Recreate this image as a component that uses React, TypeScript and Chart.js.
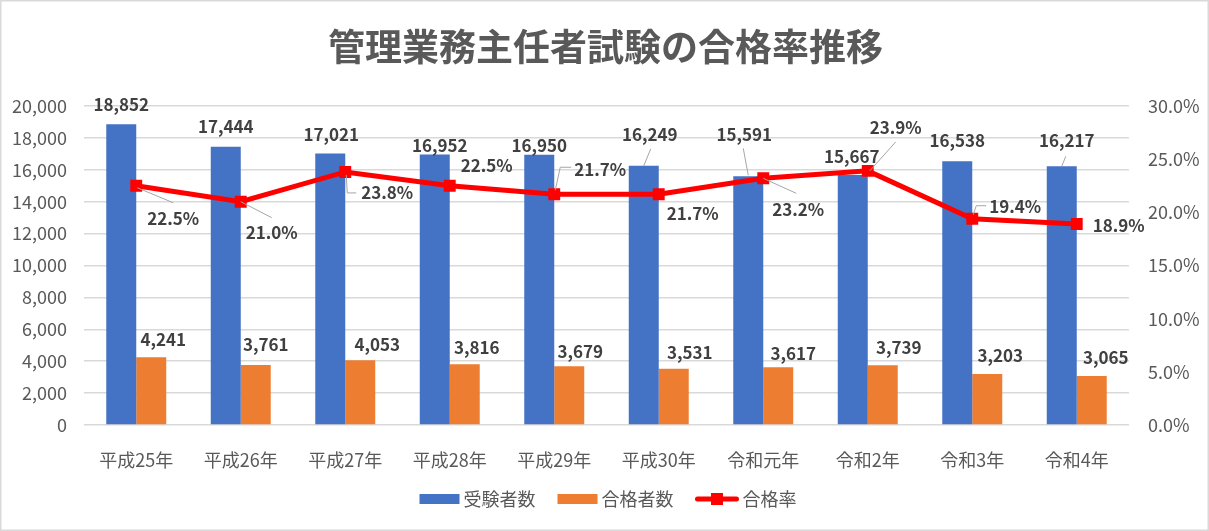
import React, { useEffect, useRef } from 'react';
import { Chart, registerables } from 'chart.js';

Chart.register(...registerables);

// ---------- data ----------
const TITLE = '管理業務主任者試験の合格率推移';
const categories = ['平成25年', '平成26年', '平成27年', '平成28年', '平成29年', '平成30年', '令和元年', '令和2年', '令和3年', '令和4年'];
const seriesNames = ['受験者数', '合格者数', '合格率'];
const examinees = [18852, 17444, 17021, 16952, 16950, 16249, 15591, 15667, 16538, 16217];
const passers = [4241, 3761, 4053, 3816, 3679, 3531, 3617, 3739, 3203, 3065];
const passRate = [22.5, 21.0, 23.8, 22.5, 21.7, 21.7, 23.2, 23.9, 19.4, 18.9];
const leftAxis = { min: 0, max: 20000, step: 2000 };
const rightAxis = { min: 0, max: 30, step: 5 };

// ---------- label placement (style only: offsets from each mark) ----------
type Pt = [number, number];
const examineeLabelOffsets: Pt[] = [[0, -20], [0, -20], [1, -19], [5, -9], [0, -9], [6, -31], [-4, -42], [-1, -19], [0, -21], [5, -26]];
const examineeLeaders: (Pt[] | null)[] = [null, null, null, null, null, [[7, -17], [0, 0]], [[-5, -28], [0, -1]], null, null, [[4, -10], [0, 0]]];
const passerLabelOffsets: Pt[] = [[12, -18], [10, -20], [17, -16], [12, -17], [11, -15], [16, -16], [15, -14], [16, -18], [13, -18], [14, -19]];
const rateLabelOffsets: Pt[] = [[37, 33], [31, 31], [42, 21], [37, -20], [46, -25], [34, 19], [35, 31], [28, -43], [43, -12], [42, 2]];
const rateLeaders: (Pt[] | null)[] = [
  [[1, 2], [37, 17]],
  [[0, 0], [31, 16]],
  [[1, 3], [2, 21], [11, 21]],
  null,
  [[1, -4], [6, -27], [17, -27]],
  null,
  [[0, 0], [33, 15]],
  [[2, 0], [28, -29]],
  [[1, -4], [4, -13], [14, -13]],
  null,
];

const FONT = '"Noto Sans CJK JP", "Noto Sans", sans-serif';
const BLUE = '#4472C4';
const ORANGE = '#ED7D31';
const RED = '#FF0000';
const AXIS_TEXT = '#595959';
const LABEL_TEXT = '#404040';
const GRID = '#d9d9d9';
const LEADER = '#a6a6a6';

const fmtInt = (v: number) => v.toLocaleString('en-US');
const fmtPct = (v: number) => v.toFixed(1) + '%';

const frame = {
  id: 'frame',
  beforeDraw(chart: any) {
    const { ctx, width, height } = chart;
    ctx.save();
    ctx.fillStyle = '#ffffff';
    ctx.fillRect(0, 0, width, height);
    ctx.strokeStyle = GRID;
    ctx.lineWidth = 1.5;
    ctx.strokeRect(0.75, 0.75, width - 1.5, height - 1.5);
    ctx.restore();
  },
};

const valueLabels = {
  id: 'valueLabels',
  afterDatasetsDraw(chart: any) {
    const ctx = chart.ctx;
    ctx.save();
    ctx.font = `bold 17px ${FONT}`;
    ctx.textAlign = 'center';
    ctx.textBaseline = 'middle';
    const drawSet = (idx: number, texts: string[], offs: Pt[], leaders: (Pt[] | null)[]) => {
      const meta = chart.getDatasetMeta(idx);
      meta.data.forEach((el: any, i: number) => {
        const { x, y } = el.getProps(['x', 'y'], true);
        const lead = leaders[i];
        if (lead) {
          ctx.strokeStyle = LEADER;
          ctx.lineWidth = 1;
          ctx.beginPath();
          lead.forEach(([dx, dy], k) => (k ? ctx.lineTo(x + dx, y + dy) : ctx.moveTo(x + dx, y + dy)));
          ctx.stroke();
        }
        ctx.fillStyle = LABEL_TEXT;
        ctx.fillText(texts[i], x + offs[i][0], y + offs[i][1]);
      });
    };
    drawSet(0, examinees.map(fmtInt), examineeLabelOffsets, examineeLeaders);
    drawSet(1, passers.map(fmtInt), passerLabelOffsets, passers.map(() => null));
    drawSet(2, passRate.map(fmtPct), rateLabelOffsets, rateLeaders);
    ctx.restore();
  },
};

const titleAndLegend = {
  id: 'titleAndLegend',
  afterDraw(chart: any) {
    const { ctx, width } = chart;
    ctx.save();
    // title
    ctx.font = `bold 37px ${FONT}`;
    ctx.fillStyle = AXIS_TEXT;
    ctx.textAlign = 'center';
    ctx.textBaseline = 'middle';
    ctx.fillText(TITLE, width / 2 + 1, 47);
    // legend
    ctx.font = `18px ${FONT}`;
    ctx.textAlign = 'left';
    const symW = [40, 40, 43];
    const gap = 4;
    const itemGap = 22;
    const textW = seriesNames.map((s) => ctx.measureText(s).width);
    const total = symW.reduce((a, w, i) => a + w + gap + textW[i], 0) + itemGap * 2;
    let x = 608 - total / 2;
    const cy = 499;
    seriesNames.forEach((name, i) => {
      if (i < 2) {
        ctx.fillStyle = i === 0 ? BLUE : ORANGE;
        ctx.fillRect(x, cy - 5, symW[i], 10);
      } else {
        ctx.strokeStyle = RED;
        ctx.lineWidth = 5;
        ctx.lineCap = 'round';
        ctx.beginPath();
        ctx.moveTo(x + 2, cy);
        ctx.lineTo(x + symW[i] - 2, cy);
        ctx.stroke();
        ctx.fillStyle = RED;
        ctx.fillRect(x + symW[i] / 2 - 6, cy - 6, 12, 12);
      }
      ctx.fillStyle = AXIS_TEXT;
      ctx.fillText(name, x + symW[i] + gap, cy);
      x += symW[i] + gap + textW[i] + itemGap;
    });
    ctx.restore();
  },
};

export default function App() {
  const ref = useRef<HTMLCanvasElement>(null);

  useEffect(() => {
    if (!ref.current) return;
    const chart = new Chart(ref.current, {
      data: {
        labels: categories,
        datasets: [
          {
            type: 'bar',
            label: seriesNames[0],
            data: examinees,
            backgroundColor: BLUE,
            yAxisID: 'y',
            order: 1,
            categoryPercentage: 0.574,
            barPercentage: 1.0,
          },
          {
            type: 'bar',
            label: seriesNames[1],
            data: passers,
            backgroundColor: ORANGE,
            yAxisID: 'y',
            order: 1,
            categoryPercentage: 0.574,
            barPercentage: 1.0,
          },
          {
            type: 'line',
            label: seriesNames[2],
            data: passRate,
            yAxisID: 'y1',
            order: 0,
            borderColor: RED,
            borderWidth: 5,
            pointStyle: 'rect',
            pointRadius: 7,
            pointBackgroundColor: RED,
            pointBorderColor: RED,
            pointBorderWidth: 2,
            tension: 0,
          },
        ],
      } as any,
      options: {
        responsive: false,
        animation: false,
        devicePixelRatio: 1,
        layout: { padding: { top: 106, left: 0, right: 0, bottom: 0 } },
        plugins: {
          legend: { display: false },
          title: { display: false },
          tooltip: { enabled: false },
        },
        scales: {
          x: {
            grid: { display: false },
            border: { display: false },
            ticks: { font: { family: FONT, size: 18 }, color: AXIS_TEXT, padding: 16, maxRotation: 0 },
            afterFit: (s: any) => {
              s.height = 106;
            },
          },
          y: {
            position: 'left',
            min: leftAxis.min,
            max: leftAxis.max,
            ticks: {
              stepSize: leftAxis.step,
              font: { family: FONT, size: 18 },
              color: AXIS_TEXT,
              padding: 17,
              callback: (v: any) => fmtInt(Number(v)),
            },
            grid: { color: GRID, lineWidth: 1.5, drawTicks: false },
            border: { display: false },
            afterFit: (s: any) => {
              s.width = 84;
            },
          },
          y1: {
            position: 'right',
            min: rightAxis.min,
            max: rightAxis.max,
            ticks: {
              stepSize: rightAxis.step,
              font: { family: FONT, size: 18 },
              color: AXIS_TEXT,
              padding: 19,
              callback: (v: any) => fmtPct(Number(v)),
            },
            grid: { display: false, drawTicks: false },
            border: { display: false },
            afterFit: (s: any) => {
              s.width = 80;
            },
          },
        },
      } as any,
      plugins: [frame, valueLabels, titleAndLegend],
    });
    return () => chart.destroy();
  }, []);

  return (
    <div style={{ position: 'fixed', left: 0, top: 0, width: 1209, height: 531, background: '#fff' }}>
      <canvas ref={ref} width={1209} height={531} style={{ display: 'block', width: 1209, height: 531 }} />
    </div>
  );
}
